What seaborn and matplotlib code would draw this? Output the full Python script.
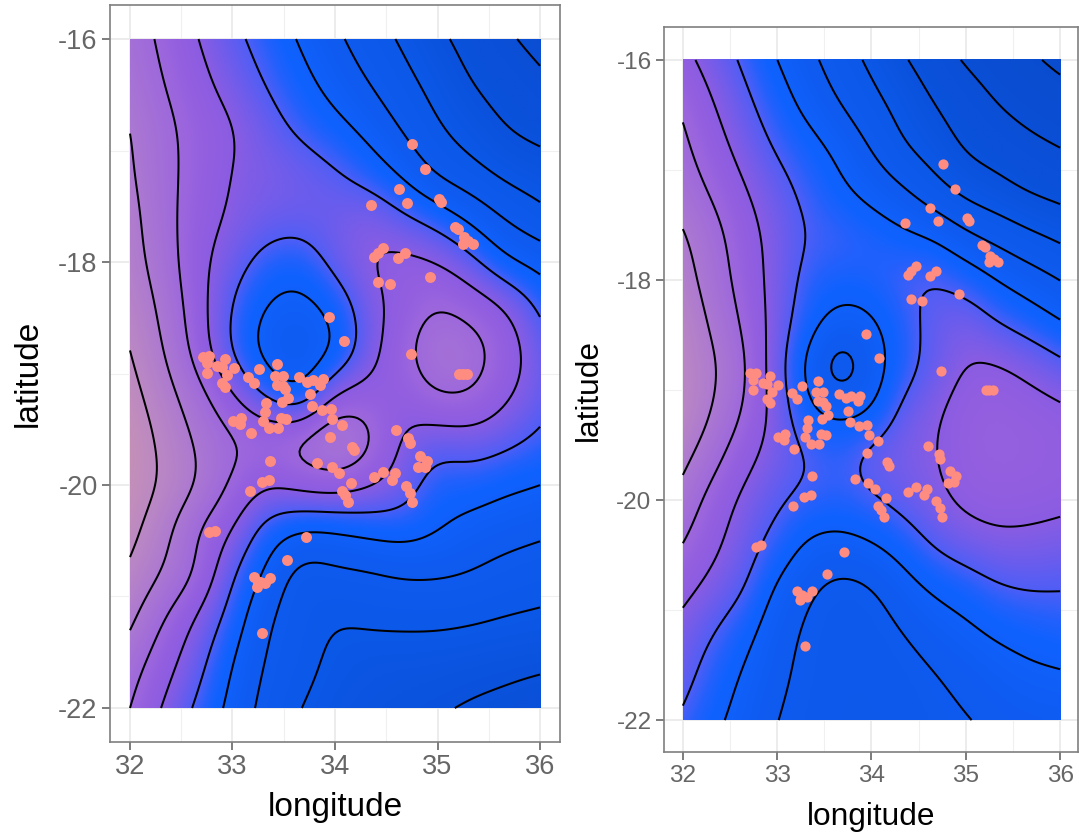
import numpy as np
import pandas as pd
import matplotlib
matplotlib.use('Agg')
import matplotlib.pyplot as plt
from matplotlib.colors import LinearSegmentedColormap
import seaborn as sns

# surface, one row per latitude (contours at whole numbers)
field_left = [
    [6.5, 5.8, 5.0, 4.25, 3.6, 2.9, 2.2, 1.5, 0.85, 0.2, -0.35, -0.85, -1.3],
    [6.7, 6.0, 5.3, 4.6, 3.95, 3.3, 2.65, 2.0, 1.3, 0.65, 0.0, -0.4, -0.8],
    [7.0, 6.25, 5.6, 5.05, 4.4, 3.8, 3.3, 2.7, 1.9, 1.1, 0.55, 0.0, -0.3],
    [7.1, 6.3, 5.6, 4.95, 4.7, 4.45, 4.1, 3.55, 2.8, 1.85, 1.3, 0.75, 0.45],
    [7.3, 6.35, 5.45, 4.85, 4.45, 4.35, 4.5, 4.7, 4.15, 3.55, 2.75, 1.9, 1.3],
    [7.4, 6.5, 5.3, 4.45, 3.65, 3.5, 4.3, 5.0, 5.25, 5.0, 4.25, 3.2, 2.65],
    [7.7, 6.75, 5.4, 3.95, 2.95, 2.7, 3.35, 4.6, 5.4, 6.0, 5.6, 4.95, 3.85],
    [8.0, 7.0, 5.6, 3.9, 2.65, 2.3, 3.05, 4.6, 5.75, 6.55, 6.4, 5.5, 4.45],
    [8.35, 7.4, 6.35, 5.1, 3.85, 3.2, 5.1, 5.45, 5.4, 6.0, 5.95, 5.15, 4.4],
    [8.65, 7.75, 6.85, 6.1, 5.85, 6.2, 6.9, 6.2, 4.85, 4.45, 4.55, 4.25, 3.8],
    [8.6, 7.85, 6.95, 5.85, 5.1, 5.35, 5.5, 5.1, 4.5, 3.55, 3.5, 3.2, 3.0],
    [8.3, 7.3, 6.0, 5.0, 3.6, 3.0, 3.05, 3.3, 3.4, 3.05, 2.65, 2.4, 2.2],
    [7.8, 6.9, 5.85, 4.1, 2.8, 1.65, 1.8, 1.9, 2.1, 2.1, 1.95, 1.65, 1.45],
    [7.2, 6.0, 4.85, 3.55, 2.15, 1.45, 1.05, 1.15, 1.2, 1.2, 1.1, 0.95, 0.85],
    [6.45, 5.4, 4.3, 3.0, 1.9, 1.3, 0.8, 0.6, 0.55, 0.5, 0.4, 0.3, 0.2],
    [6.0, 4.9, 3.8, 2.7, 1.65, 1.0, 0.6, 0.4, 0.25, 0.1, -0.1, -0.3, -0.6],
]

# same for the right panel
field_right = [
    [5.3, 4.55, 3.8, 3.0, 2.25, 1.5, 0.8, 0.1, -0.5, -1.1, -1.5, -1.85, -2.2],
    [5.85, 5.0, 4.2, 3.45, 2.7, 2.0, 1.3, 0.65, 0.0, -0.5, -1.0, -1.35, -1.6],
    [6.2, 5.4, 4.6, 3.9, 3.35, 2.75, 1.95, 1.1, 0.55, -0.1, -0.4, -0.75, -1.0],
    [6.55, 5.85, 5.05, 4.35, 3.75, 3.2, 2.7, 2.15, 1.4, 0.75, 0.35, -0.05, -0.3],
    [7.1, 6.3, 5.4, 4.6, 3.95, 3.75, 3.5, 3.2, 2.9, 2.2, 1.7, 1.2, 0.8],
    [7.4, 6.5, 5.55, 4.6, 3.7, 3.4, 3.5, 3.85, 3.98, 3.6, 3.0, 2.5, 2.0],
    [7.75, 6.8, 5.8, 4.55, 3.35, 2.6, 2.85, 3.6, 4.3, 4.55, 4.05, 3.6, 3.1],
    [7.9, 7.1, 6.05, 4.4, 2.7, 1.45, 2.45, 3.6, 4.35, 5.05, 5.1, 4.75, 4.3],
    [7.9, 6.9, 5.85, 4.6, 3.2, 2.8, 3.05, 4.25, 4.85, 5.4, 5.55, 5.4, 5.2],
    [7.3, 6.3, 5.3, 4.55, 3.97, 3.7, 4.3, 4.65, 4.95, 5.45, 5.6, 5.55, 5.4],
    [6.6, 5.6, 4.75, 4.15, 3.75, 3.6, 3.9, 4.3, 4.75, 5.2, 5.35, 5.3, 5.2],
    [6.0, 5.2, 4.4, 3.65, 2.85, 2.7, 2.95, 3.45, 4.1, 4.5, 4.75, 4.75, 4.65],
    [5.3, 4.65, 4.0, 2.85, 2.15, 1.75, 1.95, 2.6, 3.15, 3.5, 3.9, 4.05, 4.03],
    [4.65, 4.0, 3.3, 2.4, 1.85, 1.5, 1.6, 2.0, 2.45, 2.8, 3.15, 3.35, 3.5],
    [4.3, 3.55, 2.85, 2.2, 1.75, 1.45, 1.45, 1.65, 1.95, 2.25, 2.55, 2.8, 2.9],
    [3.85, 3.2, 2.6, 2.0, 1.65, 1.4, 1.4, 1.5, 1.75, 1.95, 2.2, 2.35, 2.45],
]

# sample sites
site_lon = [32.715, 32.774, 32.748, 32.927, 32.845, 32.894, 33.014, 32.748, 32.949, 32.894, 32.927,
            33.154, 33.213, 33.261, 33.431, 33.414, 33.489, 33.431, 33.489, 33.515, 33.652, 33.730,
            33.788, 33.879, 33.853, 33.756, 33.538, 33.479, 33.323, 33.317, 33.294, 33.772, 33.870,
            33.957, 33.974, 34.071, 33.954, 34.162, 34.185, 33.821, 33.967, 34.039, 34.159, 34.065,
            34.097, 34.130, 34.383, 34.471, 34.585, 34.553, 34.689, 34.731, 34.751, 34.595, 34.715,
            34.731, 34.829, 34.894, 34.878, 34.813, 33.008, 33.080, 33.073, 33.180, 33.359, 33.447,
            33.470, 33.522, 33.369, 33.356, 33.285, 33.170, 32.829, 32.773, 33.713, 33.531, 33.209,
            33.365, 33.317, 33.242, 33.268, 34.084, 33.94, 34.741, 35.21, 35.25, 35.29, 33.29, 33.25,
            34.755, 34.882, 34.621, 34.703, 34.355, 35.012, 35.031, 35.171, 35.203, 35.259, 35.246,
            35.301, 35.343, 34.472, 34.423, 34.384, 34.680, 34.618, 34.423, 34.534, 34.930]
site_lat = [-18.849, -18.843, -18.909, -18.873, -18.933, -18.945, -18.954, -18.999, -19.014, -19.082, -19.118,
            -19.029, -19.082, -18.963, -18.918, -19.020, -19.020, -19.103, -19.112, -19.142, -19.035, -19.073,
            -19.058, -19.052, -19.103, -19.187, -19.223, -19.259, -19.268, -19.348, -19.423, -19.292, -19.327,
            -19.316, -19.405, -19.459, -19.573, -19.656, -19.686, -19.806, -19.842, -19.896, -19.985, -20.051,
            -20.090, -20.150, -19.925, -19.881, -19.896, -19.955, -20.006, -20.075, -20.150, -19.507, -19.582,
            -19.626, -19.740, -19.782, -19.836, -19.842, -19.423, -19.402, -19.456, -19.537, -19.486, -19.486,
            -19.396, -19.411, -19.785, -19.955, -19.973, -20.057, -20.410, -20.425, -20.470, -20.676, -20.828,
            -20.831, -20.882, -20.912, -20.867, -18.709, -18.49, -18.825, -19.0, -19.0, -19.0, -21.33, -20.88,
            -16.941, -17.168, -17.342, -17.467, -17.485, -17.432, -17.461, -17.683, -17.704, -17.778, -17.838,
            -17.808, -17.838, -17.874, -17.916, -17.955, -17.922, -17.964, -18.176, -18.194, -18.131]

contour_levels = list(range(-2, 9))
x_ticks = [32, 33, 34, 35, 36]
y_ticks = [-22, -20, -18, -16]
x_minor = [32.5, 33.5, 34.5, 35.5]
y_minor = [-21, -19, -17]

cmap_vals = [-2.5, -1.3, 0, 1, 2.4, 3.3, 3.6, 4.0, 4.5, 5.0, 5.5, 6.0, 7.0, 8.0, 8.7]
cmap_cols = ['#0a4ccc', '#0a4ed4', '#0a52dc', '#0c58e8', '#105cf2', '#0f62ff', '#2260fc', '#4f5ef6',
             '#6f5cec', '#8a5ce2', '#945fe0', '#9d68dc', '#ab78d2', '#bb88c4', '#c490b8']
vmin, vmax = cmap_vals[0], cmap_vals[-1]
cmap = LinearSegmentedColormap.from_list(
    'field', [((v - vmin) / (vmax - vmin), c) for v, c in zip(cmap_vals, cmap_cols)], N=512)


def refine(z, n=12):
    # catmull-rom along the first axis
    z = np.asarray(z, dtype=float)
    padded = np.vstack([2 * z[0] - z[1], z, 2 * z[-1] - z[-2]])
    pos = np.linspace(0, len(z) - 1, (len(z) - 1) * n + 1)
    i = np.minimum(pos.astype(int), len(z) - 2)
    t = (pos - i)[:, None]
    p0, p1, p2, p3 = padded[i], padded[i + 1], padded[i + 2], padded[i + 3]
    return 0.5 * (2 * p1 + (p2 - p0) * t + (2 * p0 - 5 * p1 + 4 * p2 - p3) * t ** 2
                  + (3 * p1 - p0 - 3 * p2 + p3) * t ** 3)


def blur(z, sigma=4.5):
    # takes out the grid wiggle left by hand read values
    r = int(3 * sigma)
    kernel = np.exp(-0.5 * (np.arange(-r, r + 1) / sigma) ** 2)
    kernel /= kernel.sum()
    out = np.pad(z, r, mode='reflect', reflect_type='odd')
    out = np.apply_along_axis(lambda c: np.convolve(c, kernel, mode='same'), 0, out)
    out = np.apply_along_axis(lambda c: np.convolve(c, kernel, mode='same'), 1, out)
    return out[r:-r, r:-r]


def smooth_field(z):
    return blur(refine(refine(z).T).T)


sns.set_theme(style='whitegrid')
plt.rcParams['font.family'] = ['Liberation Sans', 'DejaVu Sans']
plt.rcParams['axes.unicode_minus'] = False

fig = plt.figure(figsize=(10.79, 8.35), dpi=100)
W, H = 1079.0, 835.0
ax1 = fig.add_axes([110 / W, 1 - 742 / H, 450 / W, 737 / H])
ax2 = fig.add_axes([664 / W, 1 - 752 / H, 414 / W, 725 / H])
sites = pd.DataFrame({'longitude': site_lon, 'latitude': site_lat})

panels = [(ax1, field_left, (31.805, 36.195), (-22.305, -15.695), 24, 19.5, 62, 8.5, 10),
          (ax2, field_right, (31.8, 36.19), (-22.29, -15.7), 22.8, 17.5, 54, 11.5, 9)]
for ax, field, xlim, ylim, title_size, tick_size, dot, xpad, ypad in panels:
    z = smooth_field(field)
    lon_f = np.linspace(32, 36, z.shape[1])
    lat_f = np.linspace(-16, -22, z.shape[0])
    ax.imshow(z, extent=[32, 36, -22, -16], origin='upper', aspect='auto', cmap=cmap,
              vmin=vmin, vmax=vmax, interpolation='bilinear', zorder=1)
    ax.contour(lon_f, lat_f, z, levels=contour_levels, colors='black', linewidths=1.45,
               linestyles='solid', zorder=2)
    sns.scatterplot(data=sites, x='longitude', y='latitude', ax=ax, color='#ff8c80', s=dot,
                    linewidth=0, zorder=3, clip_on=True)
    ax.set_xlim(*xlim)
    ax.set_ylim(*ylim)
    ax.set_xticks(x_ticks)
    ax.set_yticks(y_ticks)
    ax.set_xticks(x_minor, minor=True)
    ax.set_yticks(y_minor, minor=True)
    ax.grid(True, which='major', color='#ebebeb', linewidth=1.3)
    ax.grid(True, which='minor', color='#f0f0f0', linewidth=0.8)
    ax.set_axisbelow(True)
    ax.tick_params(axis='both', which='major', length=6, width=1.2, color='#666666',
                   labelcolor='#666666', labelsize=tick_size, pad=3, bottom=True, left=True)
    ax.tick_params(axis='both', which='minor', length=0)
    ax.set_xlabel('longitude', fontsize=title_size, color='black', labelpad=xpad)
    ax.set_ylabel('latitude', fontsize=title_size, color='black', labelpad=ypad)
    for side in ax.spines.values():
        side.set_visible(True)
        side.set_color('#7f7f7f')
        side.set_linewidth(1.2)

fig.savefig('out.png', dpi=100, facecolor='white')
